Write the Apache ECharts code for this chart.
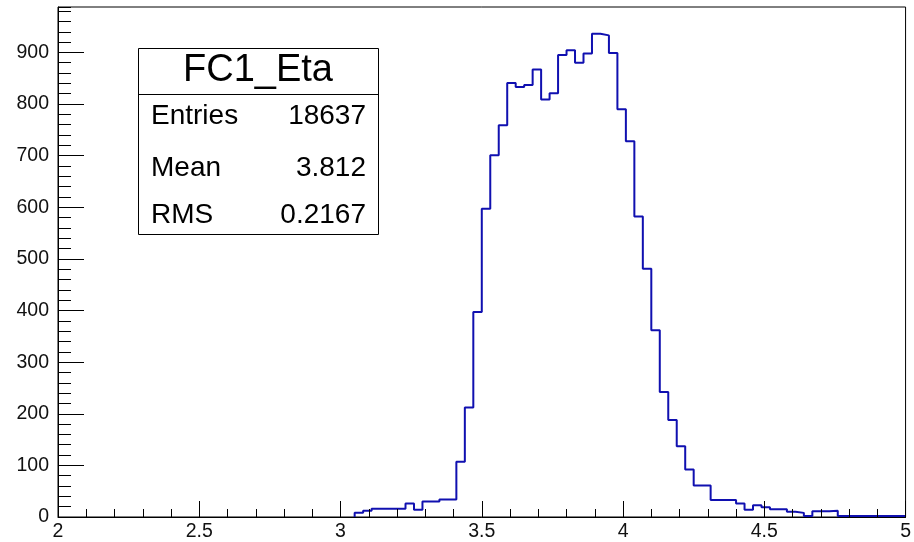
<!DOCTYPE html>
<html>
<head>
<meta charset="utf-8">
<script src="https://cdn.jsdelivr.net/npm/echarts@6/dist/echarts.min.js"></script>
<style>
  html, body { margin: 0; padding: 0; background: #fff; }
  #chart { width: 914px; height: 542px; }
</style>
</head>
<body>
<div id="chart"></div>
<script>
// histogram FC1_Eta, 100 bins on [2, 5]; only the filled part is listed
var xMin = 2
var xMax = 5
var binWidth = 0.03
var firstEdge = 3.05
var counts = [
  8, 12, 16, 16, 16, 16, 26, 14, 30, 30, 34, 34, 107, 212,
  397, 597, 701, 759, 841, 833, 837, 867, 809, 821, 895, 904, 880, 898, 936, 933, 899, 790,
  728, 582, 481, 362, 242, 188, 137, 92, 61, 61, 33, 33, 33, 26, 14, 23, 19, 15, 15, 10, 8, 2, 11, 11, 12,
  2, 2, 2, 2, 2, 2, 2, 2
]
var yMax = 988
var statsTitle = 'FC1_Eta'
var statsRows = [
  ['Entries', '18637'],
  ['Mean', '3.812'],
  ['RMS', '0.2167']
]

var font = 'Liberation Sans, Arial, Helvetica, sans-serif'

var edges = counts.map(function(c, i) {
  return +(firstEdge + i * binWidth).toFixed(2)
})
var points = [[edges[0], 0]]
edges.forEach(function(x, i) {
  points.push([x, counts[i]])
})
points.push([xMax, counts[counts.length - 1]])

var chart = echarts.init(document.getElementById('chart'))

var labelStyle = {
  color: '#111',
  fontFamily: font,
  fontSize: 19.5
}

var statsGraphic = [{
  type: 'rect',
  shape: { x: 138.5, y: 48.5, width: 240, height: 186 },
  style: { fill: '#fff', stroke: '#000', lineWidth: 1 },
  z: 10
}, {
  type: 'line',
  shape: { x1: 138.5, y1: 94.5, x2: 378.5, y2: 94.5 },
  style: { stroke: '#000', lineWidth: 1 },
  z: 11
}, {
  type: 'text',
  x: 258,
  y: 71,
  style: {
    text: statsTitle,
    font: '38px ' + font,
    fill: '#000',
    align: 'center',
    verticalAlign: 'middle'
  },
  z: 11
}]
var rowY = [116.5, 168.5, 215.5]
statsRows.forEach(function(row, i) {
  statsGraphic.push({
    type: 'text',
    x: 151,
    y: rowY[i],
    style: { text: row[0], font: '28px ' + font, fill: '#000', align: 'left', verticalAlign: 'middle' },
    z: 11
  })
  statsGraphic.push({
    type: 'text',
    x: 366,
    y: rowY[i],
    style: { text: row[1], font: '28px ' + font, fill: '#000', align: 'right', verticalAlign: 'middle' },
    z: 11
  })
})

chart.setOption({
  animation: false,
  backgroundColor: '#fff',
  grid: {
    left: 58,
    right: 3,
    top: 7,
    bottom: 22,
    show: true,
    borderColor: '#000',
    borderWidth: 1,
    backgroundColor: 'transparent'
  },
  xAxis: [{
    type: 'value',
    min: xMin,
    max: xMax,
    interval: 0.5,
    position: 'bottom',
    z: 5,
    axisLine: { show: true, onZero: false, lineStyle: { color: '#000', width: 1 } },
    axisTick: { show: true, inside: true, length: 16, lineStyle: { color: '#000', width: 1 } },
    axisLabel: Object.assign({ margin: 5 }, labelStyle),
    splitLine: { show: false }
  }, {
    type: 'value',
    min: xMin,
    max: xMax,
    interval: 0.1,
    position: 'bottom',
    z: 5,
    axisLine: { show: false },
    axisTick: { show: true, inside: true, length: 8, lineStyle: { color: '#000', width: 1 } },
    axisLabel: { show: false },
    splitLine: { show: false }
  }],
  yAxis: [{
    type: 'value',
    min: 0,
    max: yMax,
    interval: 100,
    position: 'left',
    z: 5,
    axisLine: { show: true, onZero: false, lineStyle: { color: '#000', width: 1 } },
    axisTick: { show: true, inside: true, length: 26, lineStyle: { color: '#000', width: 1 } },
    axisLabel: Object.assign({ margin: 9, showMaxLabel: false }, labelStyle),
    splitLine: { show: false }
  }, {
    type: 'value',
    min: 0,
    max: yMax,
    interval: 20,
    position: 'left',
    z: 5,
    axisLine: { show: false },
    axisTick: { show: true, inside: true, length: 13, lineStyle: { color: '#000', width: 1 } },
    axisLabel: { show: false },
    splitLine: { show: false }
  }],
  graphic: statsGraphic,
  series: [{
    name: statsTitle,
    type: 'line',
    step: 'end',
    xAxisIndex: 0,
    yAxisIndex: 0,
    data: points,
    showSymbol: false,
    symbol: 'none',
    z: 1,
    lineStyle: { color: '#1010b0', width: 2 }
  }]
})
</script>
</body>
</html>
